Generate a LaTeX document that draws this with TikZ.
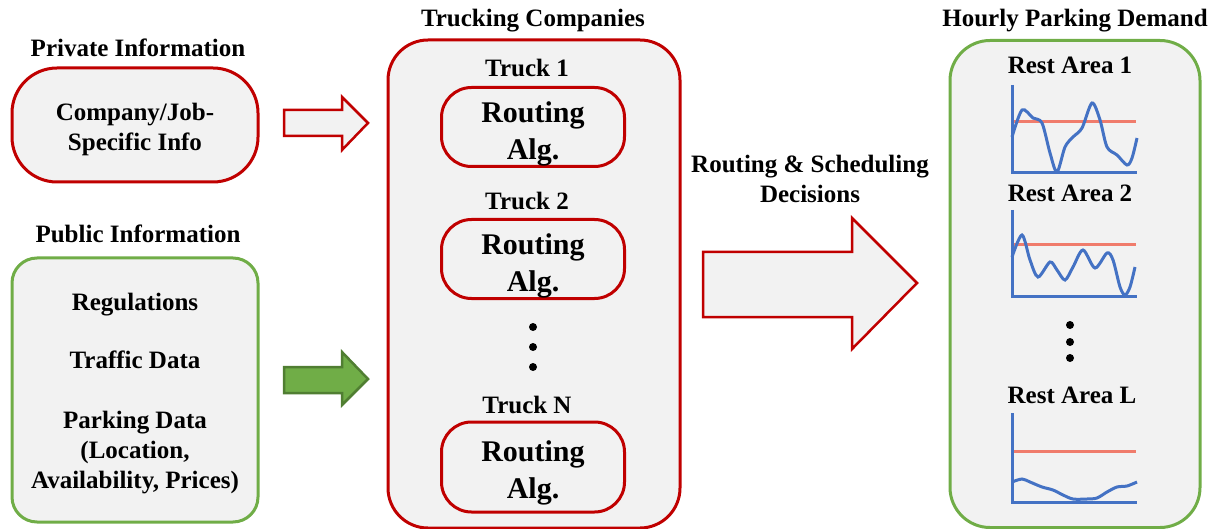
\documentclass[tikz,border=0pt]{standalone}
\usepackage{fontspec}
\setmainfont{Liberation Serif}
\usetikzlibrary{positioning}
\definecolor{boxred}{HTML}{C00000}
\definecolor{boxgreen}{HTML}{70AD47}
\definecolor{darkgreen}{HTML}{507E32}
\definecolor{boxfill}{HTML}{F2F2F2}
\definecolor{demandblue}{HTML}{4472C4}
\definecolor{limitred}{HTML}{F07C6C}

\begin{document}
\begin{tikzpicture}
	[x=1pt,y=-1pt,
	every node/.style={font=\fontsize{25}{30}\selectfont\bfseries},
	redbox/.style={draw=boxred,line width=3pt,fill=boxfill,align=center},
	greenbox/.style={draw=boxgreen,line width=3pt,fill=boxfill,align=center},
	algbox/.style={redbox,minimum width=183pt,minimum height=79pt,rounded corners=30pt,inner ysep=0pt,
		font=\fontsize{30}{37}\selectfont\bfseries},
	blockarrow/.style={line width=2.5pt,line join=miter},
	demand/.style={demandblue,line width=3pt},
	limit/.style={limitred,line width=3pt}]
	\useasboundingbox (0,0) rectangle (1220,529);
	% left column
	\node (privtitle) at (138,48) {Private Information};
	\node[redbox,minimum width=246pt,minimum height=114pt,rounded corners=45pt] (priv) at (135,125) {\rule{0pt}{26pt}Company/Job-\\Specific Info};
	\node (pubtitle) at (138,234) {Public Information};
	\node[greenbox,minimum width=246pt,minimum height=264pt,rounded corners=25pt] (pub) at (135,390)
		{\rule{0pt}{24pt}Regulations\\[28pt]Traffic Data\\[30pt]Parking Data\\(Location,\\Availability, Prices)};
	% input arrows
	\draw[blockarrow,draw=boxred,fill=boxfill] (284,110) -- (342,110) -- (342,97) -- (368,123) -- (342,150) -- (342,136) -- (284,136) -- cycle;
	\draw[blockarrow,draw=darkgreen,fill=boxgreen] (284,367) -- (342,367) -- (342,352) -- (368,379) -- (342,405) -- (342,393) -- (284,393) -- cycle;
	% trucking companies
	\node (trucktitle) at (533,21) {Trucking Companies};
	\node[redbox,minimum width=292pt,minimum height=488pt,rounded corners=40pt] (truck) at (534,284) {};
	\node (t1) at (527,68) {Truck 1};
	\node[algbox] (alg1) at (533,127) {\rule{0pt}{35pt}Routing\\Alg.};
	\node (t2) at (527,201) {Truck 2};
	\node[algbox] (alg2) at (533,259) {\rule{0pt}{35pt}Routing\\Alg.};
	\foreach \y in {327,347,367}
	\fill (533,\y) circle (4pt);
	\node (tN) at (527,405) {Truck N};
	\node[algbox,minimum height=90pt] (algN) at (533,467) {\rule{0pt}{33pt}Routing\\Alg.};
	% decisions
	\node[align=center] (dec) at (810,179) {Routing \& Scheduling\\Decisions};
	\draw[blockarrow,draw=boxred,fill=boxfill] (703,252) -- (852,252) -- (852,218) -- (917,283) -- (852,349) -- (852,317) -- (703,317) -- cycle;
	% parking demand
	\node (parktitle) at (1075,21) {Hourly Parking Demand};
	\node[greenbox,minimum width=250pt,minimum height=487pt,rounded corners=40pt] (park) at (1075,284) {};
	\node (ra1) at (1070,65) {Rest Area 1};
	\node (ra2) at (1070,193) {Rest Area 2};
	\node (raL) at (1072,395) {Rest Area L};
	\foreach \y in {325,342,358}
	\fill (1070,\y) circle (4pt);
	\foreach \top/\bot/\lim in {85/173/122,210/296/245,413/502/451}{
		\draw[limit] (1012,\lim) -- (1136,\lim);
		\draw[demand] (1012,\top) -- (1012,\bot) -- (1137,\bot);
	}
	\draw[demand] plot[smooth] coordinates {(1012,137) (1022,110) (1033,118) (1042,123) (1050,153) (1057,172) (1065,147) (1073,137) (1082,128) (1092,103) (1100,120) (1107,147) (1117,155) (1127,165) (1132,158) (1137,138)};
	\draw[demand] plot[smooth] coordinates {(1012,257) (1022,235) (1030,260) (1038,277) (1050,262) (1057,270) (1065,280) (1073,267) (1083,250) (1095,268) (1107,253) (1113,260) (1120,287) (1125,295) (1130,287) (1135,267)};
	\draw[demand] plot[smooth] coordinates {(1012,482) (1022,479) (1030,482) (1042,487) (1053,490) (1063,495) (1073,499) (1087,499) (1097,498) (1107,492) (1117,487) (1127,486) (1137,482)};
\end{tikzpicture}
\end{document}
